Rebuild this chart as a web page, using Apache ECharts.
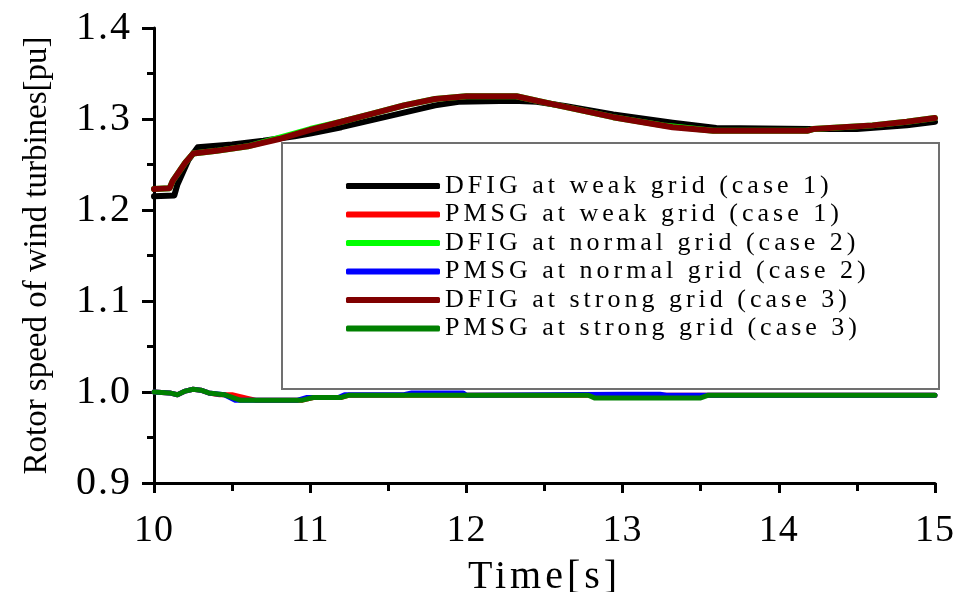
<!DOCTYPE html>
<html>
<head>
<meta charset="utf-8">
<script src="https://cdn.jsdelivr.net/npm/echarts@6/dist/echarts.min.js"></script>
<style>
html,body{margin:0;padding:0;background:#fff;}
#chart{width:960px;height:592px;}
</style>
</head>
<body>
<div id="chart"></div>
<script>
// letter-spacing helper: font families carrying a marker "lsN" get N px spacing
(function(){
  var d = Object.getOwnPropertyDescriptor(CanvasRenderingContext2D.prototype, 'font');
  if (!d || !d.set) return;
  Object.defineProperty(CanvasRenderingContext2D.prototype, 'font', {
    configurable: true,
    get: function(){ return d.get.call(this); },
    set: function(v){
      d.set.call(this, v);
      var m = /ls(\d+)/.exec(String(v));
      try { this.letterSpacing = m ? (m[1] + 'px') : '0px'; } catch(e) {}
    }
  });
})();

// ---- data ----
var seriesNames = [
  'DFIG at weak grid (case 1)',
  'PMSG at weak grid (case 1)',
  'DFIG at normal grid (case 2)',
  'PMSG at normal grid (case 2)',
  'DFIG at strong grid (case 3)',
  'PMSG at strong grid (case 3)'
];
var seriesColors = ['#000000', '#ff0000', '#00ff00', '#0000ff', '#800000', '#008000'];

var tDfigWeak = [10.0, 10.13, 10.15, 10.22, 10.28, 10.5, 10.7, 10.9, 11.0, 11.2, 11.4, 11.6, 11.8, 11.95, 12.3, 12.45, 12.64, 12.94, 13.32, 13.6, 14.2, 14.5, 14.82, 15.0];
var vDfigWeak = [1.215, 1.216, 1.228, 1.255, 1.269, 1.272, 1.276, 1.281, 1.284, 1.291, 1.299, 1.307, 1.315, 1.319, 1.320, 1.319, 1.314, 1.305, 1.296, 1.290, 1.289, 1.289, 1.293, 1.297];

var tDfigNormal = [10.0, 10.1, 10.12, 10.2, 10.25, 10.4, 10.6, 10.88, 11.0, 11.2, 11.4, 11.6, 11.8, 12.0, 12.32, 12.45, 12.64, 12.94, 13.26, 13.58, 14.18, 14.22, 14.6, 14.82, 15.0];
var vDfigNormal = [1.223, 1.224, 1.232, 1.252, 1.262, 1.265, 1.270, 1.283, 1.289, 1.297, 1.306, 1.315, 1.322, 1.325, 1.325, 1.320, 1.313, 1.302, 1.293, 1.287, 1.287, 1.289, 1.293, 1.297, 1.301];

var tDfigStrong = [10.0, 10.1, 10.12, 10.2, 10.25, 10.4, 10.6, 10.8, 11.0, 11.2, 11.4, 11.6, 11.8, 12.0, 12.32, 12.45, 12.64, 12.94, 13.32, 13.58, 14.18, 14.22, 14.6, 14.82, 15.0];
var vDfigStrong = [1.223, 1.224, 1.232, 1.252, 1.262, 1.265, 1.270, 1.278, 1.288, 1.297, 1.306, 1.315, 1.322, 1.325, 1.325, 1.320, 1.313, 1.302, 1.291, 1.287, 1.287, 1.289, 1.293, 1.297, 1.301];

var tPmsgWeak = [10.0, 10.1, 10.15, 10.2, 10.25, 10.3, 10.35, 10.42, 10.5, 10.6, 10.65, 10.95, 11.02, 11.2, 11.25, 15.0];
var vPmsgWeak = [1.000, 0.999, 0.997, 1.001, 1.003, 1.002, 0.999, 0.997, 0.997, 0.993, 0.991, 0.991, 0.994, 0.994, 0.9965, 0.9965];

var tPmsgNormal = [10.0, 10.1, 10.15, 10.2, 10.25, 10.3, 10.35, 10.45, 10.52, 10.92, 10.98, 11.18, 11.22, 11.6, 11.65, 11.98, 12.0, 13.0, 13.24, 13.28, 15.0];
var vPmsgNormal = [1.000, 0.999, 0.997, 1.001, 1.003, 1.002, 0.999, 0.997, 0.991, 0.991, 0.994, 0.994, 0.997, 0.997, 0.999, 0.999, 0.9965, 0.9975, 0.9975, 0.9965, 0.9965];

var tPmsgStrong = [10.0, 10.1, 10.15, 10.2, 10.25, 10.3, 10.35, 10.45, 10.55, 10.95, 11.02, 11.2, 11.25, 12.78, 12.82, 13.5, 13.55, 15.0];
var vPmsgStrong = [1.000, 0.999, 0.997, 1.001, 1.003, 1.002, 0.999, 0.997, 0.991, 0.991, 0.994, 0.994, 0.9965, 0.9965, 0.9935, 0.9935, 0.9965, 0.9965];

var xTicks = [10, 11, 12, 13, 14, 15];
var yTicks = ['0.9', '1.0', '1.1', '1.2', '1.3', '1.4'];

// ---- build ----
function pairs(t, v){ return t.map(function(x, i){ return [x, v[i]]; }); }
var seriesData = [
  pairs(tDfigWeak, vDfigWeak),
  pairs(tPmsgWeak, vPmsgWeak),
  pairs(tDfigNormal, vDfigNormal),
  pairs(tPmsgNormal, vPmsgNormal),
  pairs(tDfigStrong, vDfigStrong),
  pairs(tPmsgStrong, vPmsgStrong)
];

var SERIF = "'Liberation Serif', 'Times New Roman', serif";
function fam(n){ return "'Liberation Serif', ls" + n + ", serif"; }

var chart = echarts.init(document.getElementById('chart'), null, {renderer: 'canvas'});
chart.setOption({
  animation: false,
  backgroundColor: '#ffffff',
  grid: {left: 154, right: 25, top: 28, bottom: 109, containLabel: false, outerBoundsMode: 'none'},
  xAxis: {
    type: 'value', min: xTicks[0], max: xTicks[xTicks.length - 1], interval: 1,
    name: 'Time[s]', nameLocation: 'middle', nameGap: 70,
    nameTextStyle: {fontFamily: fam(4), fontSize: 40, color: '#000'},
    axisLine: {show: true, onZero: false, lineStyle: {color: '#000', width: 3}},
    axisTick: {show: true, inside: false, length: 10, lineStyle: {color: '#000', width: 3}},
    minorTick: {show: true, splitNumber: 2, length: 8, lineStyle: {color: '#000', width: 3}},
    axisLabel: {fontFamily: fam(1), fontSize: 38, color: '#000', margin: 29},
    splitLine: {show: false}
  },
  yAxis: {
    type: 'value', min: 0.9, max: 1.4, interval: 0.1,
    name: 'Rotor speed of wind turbines[pu]', nameLocation: 'middle', nameGap: 100,
    nameTextStyle: {fontFamily: SERIF, fontSize: 33, color: '#000'},
    axisLine: {show: true, onZero: false, lineStyle: {color: '#000', width: 3}},
    axisTick: {show: true, inside: false, length: 12, lineStyle: {color: '#000', width: 3}},
    minorTick: {show: true, splitNumber: 2, length: 7, lineStyle: {color: '#000', width: 3}},
    axisLabel: {fontFamily: fam(2), fontSize: 40, color: '#000', margin: 22,
      formatter: function(v){ return yTicks[Math.round((v - 0.9) * 10)]; }},
    splitLine: {show: false}
  },
  legend: {
    orient: 'vertical', left: 346, top: 171, padding: 0,
    icon: 'roundRect', itemWidth: 94, itemHeight: 6, itemGap: -1.5,
    textStyle: {fontFamily: fam(4), fontSize: 26, color: '#000'},
    data: seriesNames
  },
  graphic: [{
    type: 'rect', z: 1,
    shape: {x: 282, y: 143, width: 657, height: 246},
    style: {fill: 'none', stroke: '#707070', lineWidth: 2}
  }],
  series: seriesData.map(function(d, i){
    var lower = seriesNames[i].indexOf('PMSG') === 0;
    return {
      name: seriesNames[i], type: 'line', data: d, symbol: 'none',
      lineStyle: {color: seriesColors[i], width: lower ? 5 : 6, cap: 'round', join: 'round'},
      itemStyle: {color: seriesColors[i]},
      z: 2 + i
    };
  })
});
</script>
</body>
</html>
